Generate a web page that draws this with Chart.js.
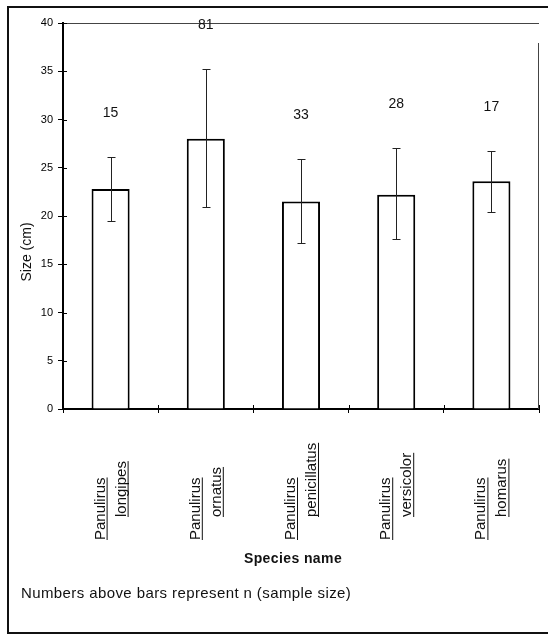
<!DOCTYPE html>
<html>
<head>
<meta charset="utf-8">
<script src="https://cdn.jsdelivr.net/npm/chart.js@4/dist/chart.umd.min.js"></script>
<style>
  html, body { margin: 0; padding: 0; background: #fff; }
  #wrap { width: 548px; height: 637px; }
</style>
</head>
<body>
<div id="wrap"><canvas id="sizeChart"></canvas></div>
<script>
// Mean size per species, with error bar ends and sample sizes
const species = [
  ["Panulirus", "longipes"],
  ["Panulirus", "ornatus"],
  ["Panulirus", "penicillatus"],
  ["Panulirus", "versicolor"],
  ["Panulirus", "homarus"]
];
const meanSize = [22.8, 28.0, 21.5, 22.2, 23.6];
const errLow = [19.5, 20.9, 17.2, 17.6, 20.4];
const errHigh = [26.1, 35.2, 25.9, 27.0, 26.7];
const sampleSize = [15, 81, 33, 28, 17];

const yTitle = "Size (cm)";
const xTitle = "Species name";
const footNote = "Numbers above bars represent n (sample size)";

const FONT = "'Liberation Sans', Arial, sans-serif";

// draws frame, error bars, n labels and the underlined species names
const extras = {
  id: "extras",
  beforeDraw(chart) {
    const ctx = chart.ctx;
    ctx.save();
    ctx.fillStyle = "#fff";
    ctx.fillRect(0, 0, chart.width, chart.height);
    ctx.restore();
  },
  afterDraw(chart) {
    const ctx = chart.ctx;
    const area = chart.chartArea;
    const x = chart.scales.x;
    const y = chart.scales.y;

    ctx.save();
    // outer frame (right side is cut off in the original)
    ctx.strokeStyle = "#111";
    ctx.lineWidth = 2;
    ctx.beginPath();
    ctx.moveTo(548, 7);
    ctx.lineTo(8, 7);
    ctx.lineTo(8, 633);
    ctx.lineTo(548, 633);
    ctx.stroke();

    // plot frame top + right
    ctx.strokeStyle = "#444";
    ctx.lineWidth = 1;
    ctx.beginPath();
    ctx.moveTo(area.left, area.top + 0.5);
    ctx.lineTo(area.right, area.top + 0.5);
    ctx.moveTo(area.right - 0.5, area.top + 20);
    ctx.lineTo(area.right - 0.5, area.bottom);
    ctx.stroke();

    // inner half of the tick marks
    ctx.strokeStyle = "#000";
    ctx.lineWidth = 1;
    ctx.beginPath();
    y.ticks.forEach((t, i) => {
      const py = Math.round(y.getPixelForTick(i)) + 0.5;
      ctx.moveTo(area.left, py);
      ctx.lineTo(area.left + 4, py);
    });
    for (let i = 0; i <= species.length; i++) {
      const px = Math.round(x.getPixelForValue(i - 0.5)) + 0.5;
      ctx.moveTo(px, area.bottom);
      ctx.lineTo(px, area.bottom - 4);
    }
    ctx.stroke();

    // error bars
    ctx.strokeStyle = "#222";
    ctx.lineWidth = 1;
    meanSize.forEach((v, i) => {
      const cx = Math.round(x.getPixelForValue(i)) + 0.5;
      const yHi = Math.round(y.getPixelForValue(errHigh[i])) + 0.5;
      const yLo = Math.round(y.getPixelForValue(errLow[i])) + 0.5;
      ctx.beginPath();
      ctx.moveTo(cx, yHi);
      ctx.lineTo(cx, yLo);
      ctx.moveTo(cx - 4, yHi);
      ctx.lineTo(cx + 4, yHi);
      ctx.moveTo(cx - 4, yLo);
      ctx.lineTo(cx + 4, yLo);
      ctx.stroke();
    });

    // sample sizes above bars
    ctx.fillStyle = "#111";
    ctx.font = "14px " + FONT;
    ctx.textAlign = "center";
    ctx.textBaseline = "alphabetic";
    sampleSize.forEach((n, i) => {
      const cx = x.getPixelForValue(i);
      const yHi = y.getPixelForValue(errHigh[i]);
      ctx.fillText(String(n), cx, yHi - 40);
    });

    // species names, rotated and underlined
    ctx.font = "15px " + FONT;
    ctx.textAlign = "left";
    species.forEach((lines, i) => {
      const cx = x.getPixelForValue(i);
      lines.forEach((txt, j) => {
        const bx = cx - 6 + j * 21;
        const by = j === 0 ? 540 : 517;
        ctx.save();
        ctx.translate(bx, by);
        ctx.rotate(-Math.PI / 2);
        ctx.fillText(txt, 0, 0);
        const w = ctx.measureText(txt).width;
        ctx.fillRect(0, 2, w, 1);
        ctx.restore();
      });
    });

    // y axis title
    ctx.save();
    ctx.font = "14px " + FONT;
    ctx.textAlign = "center";
    ctx.translate(31, 252);
    ctx.rotate(-Math.PI / 2);
    ctx.fillText(yTitle, 0, 0);
    ctx.restore();

    // x axis title
    ctx.font = "bold 14px " + FONT;
    ctx.letterSpacing = "0.4px";
    ctx.textAlign = "center";
    ctx.fillText(xTitle, 293, 563);

    // footnote
    ctx.font = "15px " + FONT;
    ctx.letterSpacing = "0.4px";
    ctx.textAlign = "left";
    ctx.fillText(footNote, 21, 598);
    ctx.restore();
  }
};

const chart = new Chart(document.getElementById("sizeChart"), {
  type: "bar",
  data: {
    labels: species.map(s => s.join(" ")),
    datasets: [{
      label: "Size",
      data: meanSize,
      backgroundColor: "#fff",
      borderColor: "#000",
      borderWidth: 2,
      barPercentage: 0.4,
      categoryPercentage: 1.0
    }]
  },
  options: {
    responsive: true,
    maintainAspectRatio: false,
    animation: false,
    layout: { padding: { top: 23, right: 9, left: 0, bottom: 0 } },
    plugins: {
      legend: { display: false },
      tooltip: { enabled: false }
    },
    scales: {
      x: {
        offset: true,
        grid: {
          offset: true,
          drawOnChartArea: false,
          drawTicks: true,
          tickLength: 4,
          color: "#000"
        },
        border: { display: true, color: "#000", width: 2 },
        ticks: { display: false },
        afterFit: s => { s.height = 228; }
      },
      y: {
        min: 0,
        max: 40,
        ticks: {
          stepSize: 5,
          color: "#000",
          padding: 5,
          font: { family: FONT, size: 11 }
        },
        grid: {
          drawOnChartArea: false,
          tickLength: 5,
          color: "#000"
        },
        border: { display: true, color: "#000", width: 2 },
        afterFit: s => { s.width = 63; }
      }
    }
  },
  plugins: [extras]
});
</script>
</body>
</html>
